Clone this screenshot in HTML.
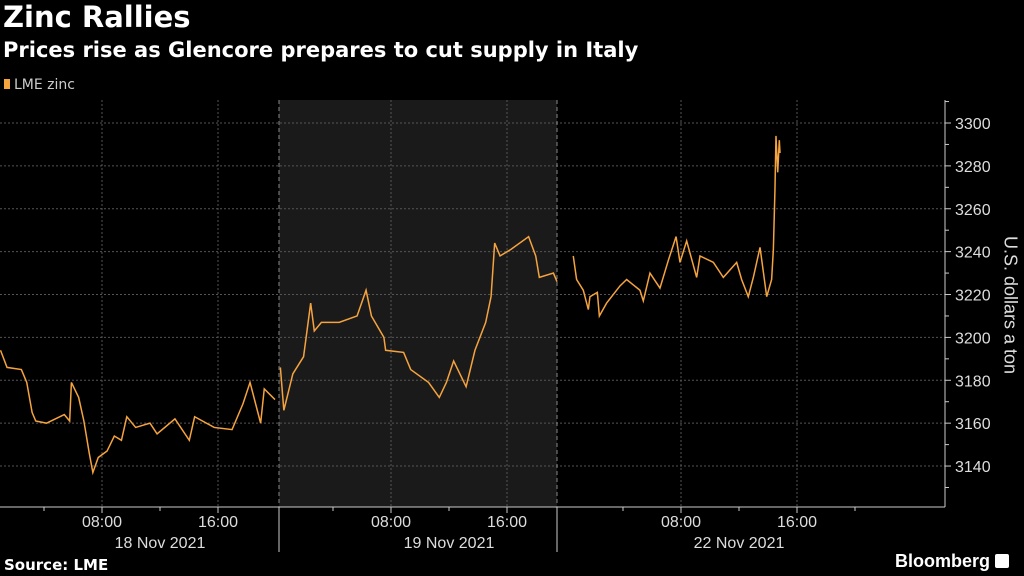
<!DOCTYPE html>
<html><head><meta charset="utf-8"><style>
body{margin:0;background:#000;width:1024px;height:576px;overflow:hidden;font-family:"Liberation Sans",sans-serif;color:#fff}
.t{position:absolute;white-space:nowrap}
.dj{font-family:"DejaVu Sans","Liberation Sans",sans-serif}
</style></head><body>
<div class="t dj" style="left:3px;top:0px;font-size:29px;font-weight:bold">Zinc Rallies</div>
<div class="t dj" style="left:3px;top:38px;font-size:21px;font-weight:bold">Prices rise as Glencore prepares to cut supply in Italy</div>
<div class="t dj" style="left:4px;top:77px;font-size:14px;color:#ccc"><span style="display:inline-block;width:6px;height:10px;background:#f5a33f;margin-right:4px"></span>LME zinc</div>
<div class="t dj" style="left:4px;top:556px;font-size:15px;font-weight:bold">Source: LME</div>
<div class="t" style="left:895px;top:551px;font-size:18px;font-weight:bold">Bloomberg <span style="display:inline-block;width:14px;height:14px;background:#fff;border-radius:2px;vertical-align:-1px"></span></div>
<div class="t" style="left:1010px;top:305px;font-size:18px;color:#ddd;transform:translate(-50%,-50%) rotate(90deg)">U.S. dollars a ton</div>
<svg id="c" width="1024" height="576" style="position:absolute;left:0;top:0"></svg>
<script>
const yTicks=[3140,3160,3180,3200,3220,3240,3260,3280,3300];
const dayLabels=["18 Nov 2021","19 Nov 2021","22 Nov 2021"];
const hourTicks=[8,16];
const day1=[[1.0,3194],[1.45,3186],[2.44,3185],[2.81,3179],[3.18,3165],[3.43,3161],[4.17,3160],[5.4,3164],[5.77,3161],[5.89,3179],[6.39,3172],[6.75,3161],[7.12,3146],[7.37,3137],[7.74,3144],[8.35,3147],[8.85,3154],[9.34,3152],[9.71,3163],[10.32,3158],[11.31,3160],[11.8,3155],[13.03,3162],[14.02,3152],[14.39,3163],[15.74,3158],[16.97,3157],[17.22,3161],[17.72,3169],[18.21,3179],[18.94,3160],[19.19,3176],[19.93,3171]];
const day2=[[0.37,3186],[0.61,3166],[1.23,3183],[1.97,3191],[2.46,3216],[2.71,3203],[3.2,3207],[4.43,3207],[5.66,3210],[6.28,3222],[6.65,3210],[7.51,3200],[7.63,3194],[8.87,3193],[9.36,3185],[10.59,3179],[11.33,3172],[11.82,3179],[12.32,3189],[13.18,3177],[13.79,3194],[14.53,3207],[14.9,3219],[15.15,3244],[15.52,3238],[16.26,3241],[17.49,3247],[17.98,3238],[18.23,3228],[19.2,3230],[19.45,3226]];
const day3=[[0.57,3238],[0.8,3227],[1.26,3222],[1.61,3213],[1.72,3219],[2.23,3221],[2.37,3210],[2.87,3216],[3.79,3224],[4.25,3227],[5.17,3222],[5.4,3217],[5.86,3230],[6.55,3223],[7.13,3236],[7.66,3247],[7.93,3235],[8.39,3245],[9.08,3228],[9.31,3238],[10.23,3235],[10.92,3228],[11.84,3235],[12.18,3227],[12.64,3219],[12.99,3228],[13.45,3242],[13.79,3225],[13.91,3219],[14.25,3227],[14.37,3241],[14.48,3269],[14.55,3294],[14.67,3277],[14.78,3292],[14.83,3286]];
const days=[day1,day2,day3];
const dayStart=[-14,275,565], pxPerHour=14.5, bounds=[279,557];
const X=(d,h)=>dayStart[d]+h*pxPerHour;
const Y=v=>123+(3300-v)*2.144;
const svg=document.getElementById('c');const NS='http://www.w3.org/2000/svg';
function mk(t,a,name,parent){const e=document.createElementNS(NS,t);for(const k in a)e.setAttribute(k,a[k]);


(parent||svg).appendChild(e);return e;}
mk('rect',{x:bounds[0],y:100,width:bounds[1]-bounds[0],height:407,fill:'#1a1a1a'},'shaded-day');
yTicks.forEach(v=>{mk('line',{x1:0,x2:945,y1:Y(v),y2:Y(v),stroke:'#555','stroke-dasharray':'2,2'},'grid-line-y');
mk('line',{x1:945,x2:951,y1:Y(v),y2:Y(v),stroke:'#ccc'},'y-tick');
const t=mk('text',{x:955,y:Y(v)+6,fill:'#ddd','font-size':16},'y-tick-label');t.textContent=v;});
for(let v=3130;v<=3310;v+=20){if(Y(v)>100&&Y(v)<507)mk('line',{x1:945,x2:949,y1:Y(v),y2:Y(v),stroke:'#ccc'},'y-minor-tick');}
mk('line',{x1:945,x2:945,y1:100,y2:507,stroke:'#ccc'},'y-axis-line');
mk('line',{x1:0,x2:945,y1:507,y2:507,stroke:'#ccc'},'x-axis-line');
bounds.forEach(b=>{mk('line',{x1:b,x2:b,y1:100,y2:507,stroke:'#888','stroke-dasharray':'4,3'},'day-separator');
mk('line',{x1:b,x2:b,y1:507,y2:552,stroke:'#ccc'},'day-tick');});
days.forEach((d,i)=>{hourTicks.forEach(h=>{const x=X(i,h);
mk('line',{x1:x,x2:x,y1:100,y2:507,stroke:'#555','stroke-dasharray':'2,2'},'grid-line-x');
mk('line',{x1:x,x2:x,y1:507,y2:513,stroke:'#ccc'},'x-tick');
const t=mk('text',{x:x,y:527,fill:'#ddd','font-size':16,'text-anchor':'middle'},'x-tick-label');t.textContent=(h<10?'0':'')+h+':00';});
[4,12,20].forEach(h=>{const x=X(i,h);if(x>0&&x<945&&Math.abs(x-bounds[0])>8&&Math.abs(x-bounds[1])>8)mk('line',{x1:x,x2:x,y1:507,y2:511,stroke:'#ccc'},'x-minor-tick');});
const t=mk('text',{x:X(i,12),y:548,fill:'#ddd','font-size':16,'text-anchor':'middle'},'date-label');t.textContent=dayLabels[i];
mk('polyline',{points:d.map(p=>X(i,p[0])+','+Y(p[1])).join(' '),fill:'none',stroke:'#f5a33f','stroke-width':1.5},'zinc-price-line');});
</script>
</body></html>
